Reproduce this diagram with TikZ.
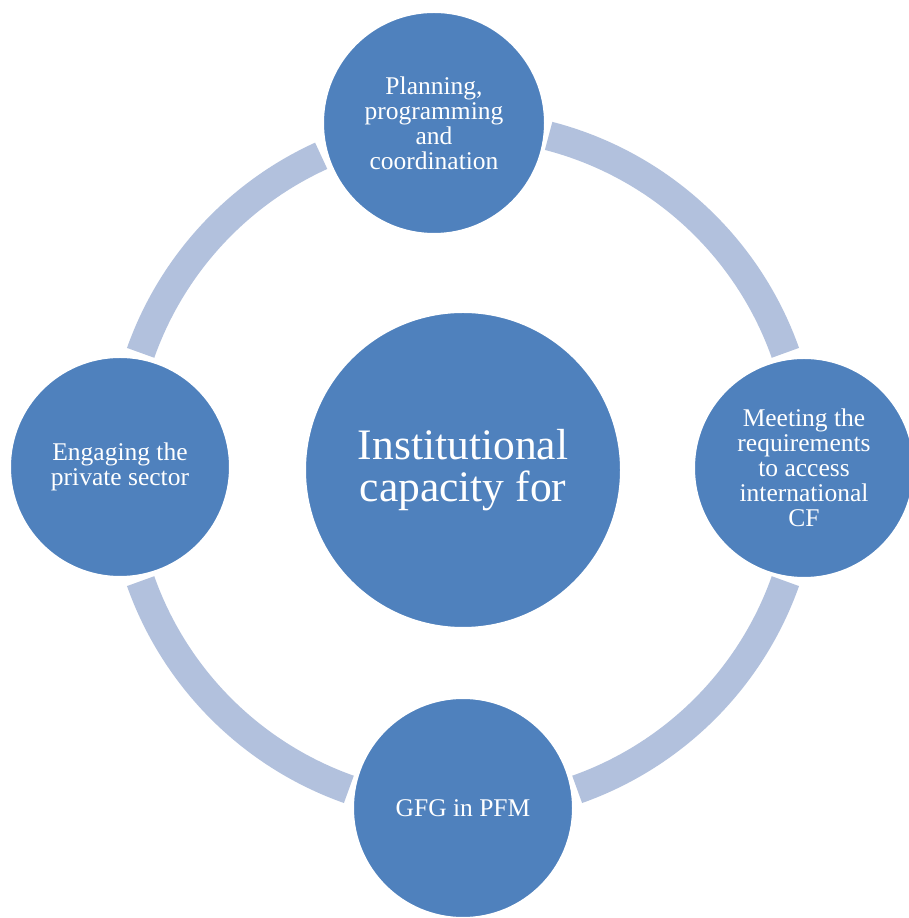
\documentclass[tikz,border=0pt]{standalone}
\usepackage{fontspec}
\setmainfont{Liberation Serif}
\definecolor{cfill}{HTML}{4F81BD}
\definecolor{ringc}{HTML}{B2C1DD}
\begin{document}
\begin{tikzpicture}[x=1pt,y=1pt,
  ringarc/.style={draw=ringc,line width=29pt,line cap=butt},
  bubble/.style={circle,fill=cfill,draw=white,line width=2pt,text=white,align=center,inner sep=0pt,
    font=\fontsize{25.5}{25}\selectfont},
  hub/.style={bubble,font=\fontsize{43.5}{42}\selectfont}]
\useasboundingbox (0,0) rectangle (909,918);
\clip (0,0) rectangle (909,918);
\fill[white] (0,0) rectangle (909,918);
\coordinate (R) at (463,451);
% ring segments
\foreach \a/\b in {19.5/75.5, 114.5/160.5, 199.5/250.5, 289.5/340.5}{
  \draw[ringarc] ([shift={(R)}]\a:342) arc[start angle=\a, end angle=\b, radius=342];
}
\node[hub,minimum size=316pt] (core) at (463,448) {Institutional\\capacity for};
\node[bubble,minimum size=222pt] (top) at (434,795) {Planning,\\programming\\and\\coordination};
\node[bubble,minimum size=220pt] (right) at (804,450) {Meeting the\\requirements\\to access\\international\\CF};
\node[bubble,minimum size=220pt] (bottom) at (463,110) {GFG in PFM};
\node[bubble,minimum size=220pt] (left) at (120,451) {Engaging the\\private sector};
\end{tikzpicture}
\end{document}
